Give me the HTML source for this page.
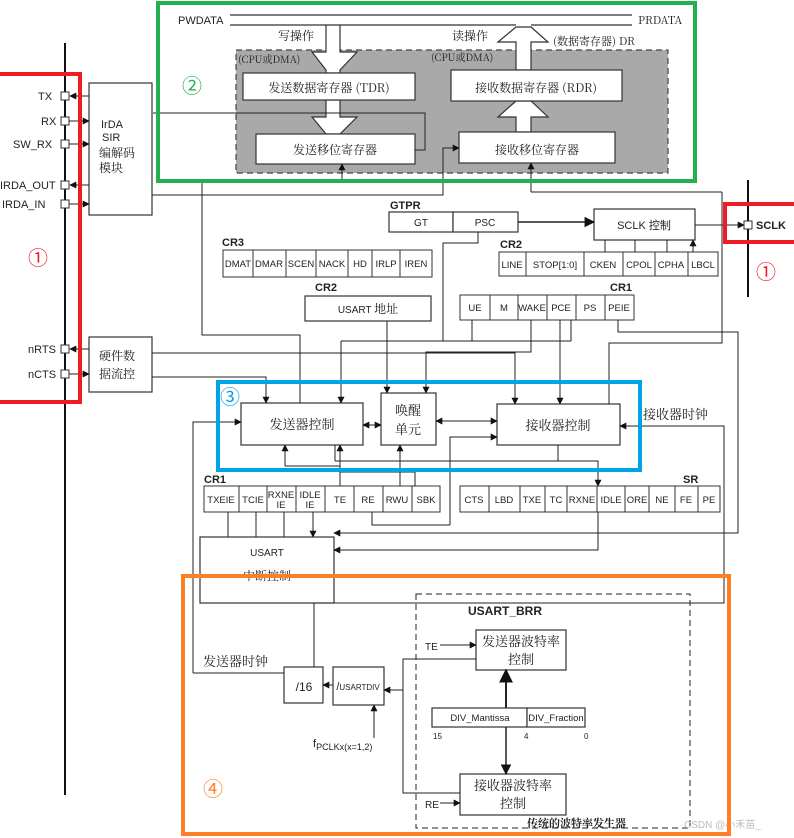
<!DOCTYPE html>
<html><head><meta charset="utf-8"><style>
html,body{margin:0;padding:0;background:#fff}
svg{display:block}
text{font-family:"Liberation Sans","Noto Sans CJK SC",sans-serif;fill:#222}
.c{font-family:"Noto Serif CJK SC","Noto Sans CJK SC",serif}
</style></head><body>
<svg width="794" height="838" viewBox="0 0 794 838" xmlns="http://www.w3.org/2000/svg">
<defs>
<marker id="a" viewBox="0 0 10 10" refX="9" refY="5" markerWidth="7" markerHeight="7" orient="auto-start-reverse"><path d="M0,0L10,5L0,10z" fill="#111"/></marker>
</defs>
<g fill="none" stroke="#333" stroke-width="1.2">
<!-- left bus -->
<line x1="65" y1="43" x2="65" y2="795" stroke="#111" stroke-width="2"/>
<line x1="748" y1="180" x2="748" y2="297" stroke="#111" stroke-width="2"/>
<!-- PWDATA/PRDATA bus -->
<line x1="230" y1="15" x2="632" y2="15"/>
<line x1="230" y1="25" x2="326" y2="25"/>
<line x1="340" y1="25" x2="516" y2="25"/>
<line x1="531" y1="25" x2="632" y2="25"/>
<!-- gray region -->
<rect x="236" y="50" width="432" height="123" fill="#a9a9a9" stroke="#444" stroke-dasharray="6,4"/>
</g>
<!-- hollow arrows -->
<g fill="#fff" stroke="#333" stroke-width="1.2">
<polygon points="326,25 340,25 340,52 357,52 340,70 340,73 326,73 326,70 312,52 326,52"/>
<polygon points="326,100 340,100 340,117 357,117 340,134 326,134 312,117 326,117"/>
<polygon points="516,70 531,70 531,42 548,42 531,27 516,27 498,42 516,42"/>
<polygon points="516,132 531,132 531,117 548,117 531,101 516,101 498,117 516,117"/>
</g>
<g fill="#fff" stroke="#333" stroke-width="1.2">
<rect x="243" y="73" width="172" height="27"/>
<rect x="451" y="70" width="171" height="31"/>
<rect x="256" y="134" width="159" height="30"/>
<rect x="459" y="132" width="156" height="31"/>
<rect x="89" y="83" width="63" height="132"/>
<rect x="89" y="337" width="63" height="55"/>
<rect x="389" y="212" width="64" height="20"/>
<rect x="453" y="212" width="65" height="20"/>
<rect x="594" y="209" width="101" height="31"/>
<rect x="305" y="296" width="126" height="25"/>
<rect x="241" y="403" width="122" height="42"/>
<rect x="381" y="393" width="55" height="52"/>
<rect x="497" y="404" width="123" height="41"/>
<rect x="200" y="537" width="134" height="66"/>
<rect x="284" y="667" width="39" height="36"/>
<rect x="333" y="667" width="51" height="38"/>
<rect x="476" y="630" width="90" height="40"/>
<rect x="460" y="774" width="106" height="41"/>
<rect x="432" y="708" width="95" height="19"/>
<rect x="527" y="708" width="58" height="19"/>
</g>
<!-- register rows -->
<g fill="#fff" stroke="#333" stroke-width="1">
<rect x="223" y="250" width="209" height="27"/>
<rect x="499" y="252" width="219" height="24"/>
<rect x="460" y="295" width="174" height="25"/>
<rect x="204" y="486" width="236" height="26"/>
<rect x="460" y="486" width="260" height="26"/>
</g>
<g stroke="#333" stroke-width="1">
<path d="M253,250v27M286,250v27M316,250v27M348,250v27M372,250v27M400,250v27"/>
<path d="M526,252v24M584,252v24M623,252v24M655,252v24M688,252v24"/>
<path d="M490,295v25M518,295v25M547,295v25M576,295v25M605,295v25"/>
<path d="M239,486v26M267,486v26M296,486v26M325,486v26M354,486v26M383,486v26M412,486v26"/>
<path d="M489,486v26M520,486v26M545,486v26M567,486v26M597,486v26M625,486v26M649,486v26M675,486v26M698,486v26"/>
</g>
<!-- pins -->
<g fill="#fff" stroke="#333" stroke-width="1">
<rect x="61" y="92" width="8" height="8"/><rect x="61" y="117" width="8" height="8"/><rect x="61" y="140" width="8" height="8"/>
<rect x="61" y="181" width="8" height="8"/><rect x="61" y="200" width="8" height="8"/>
<rect x="61" y="345" width="8" height="8"/><rect x="61" y="370" width="8" height="8"/>
<rect x="744" y="221" width="8" height="8"/>
</g>
<!-- connectors -->
<g fill="none" stroke="#222" stroke-width="1">
<line x1="89" y1="96" x2="70" y2="96" marker-end="url(#a)"/>
<line x1="69" y1="121" x2="89" y2="121" marker-end="url(#a)"/>
<line x1="69" y1="144" x2="89" y2="144" marker-end="url(#a)"/>
<line x1="89" y1="185" x2="70" y2="185" marker-end="url(#a)"/>
<line x1="69" y1="204" x2="89" y2="204" marker-end="url(#a)"/>
<line x1="89" y1="349" x2="70" y2="349" marker-end="url(#a)"/>
<line x1="69" y1="374" x2="89" y2="374" marker-end="url(#a)"/>
<path d="M415,150H425V113H153" />
<path d="M152,195H443V148H459" marker-end="url(#a)"/>
<path d="M202,183V335H300V403"/>
<path d="M342,183V164" marker-end="url(#a)"/>
<path d="M531,192V163" marker-end="url(#a)" />
<path d="M722,192H531"/>
<path d="M722,192V343H609V404"/>
<path d="M518,222H594" marker-end="url(#a)" stroke-width="1.5"/>
<path d="M695,225H744" marker-end="url(#a)"/>
<path d="M605,252V240M635,252V240M667,252V240M693,252V240" marker-end="url(#a)"/>
<path d="M478,232V243H443V341"/>
<path d="M472,320V341M571,320V341"/>
<path d="M341,341H571"/>
<path d="M341,341V403" marker-end="url(#a)"/>
<path d="M152,353H515V404" marker-end="url(#a)"/>
<path d="M152,377H266V403" marker-end="url(#a)"/>
<path d="M387,321V393" marker-end="url(#a)"/>
<path d="M531,320V352H426V393" marker-end="url(#a)"/>
<path d="M560,320V404" marker-end="url(#a)"/>
<path d="M618,320V332H738V533H334" marker-end="url(#a)"/>
<path d="M363,425H381" marker-end="url(#a)" marker-start="url(#a)"/>
<path d="M436,421H497" marker-end="url(#a)" marker-start="url(#a)"/>
<path d="M450,525V437H497" marker-end="url(#a)"/>
<path d="M372,512V525H450"/>
<path d="M558,445V461H598V486" marker-end="url(#a)"/>
<path d="M598,512V550H334" marker-end="url(#a)"/>
<path d="M335,461H558"/>
<path d="M335,445V461"/>
<path d="M340,466V445" marker-end="url(#a)"/>
<path d="M285,466V445" marker-end="url(#a)"/>
<path d="M340,486V472H415V486"/>
<path d="M285,466H340V486"/>
<path d="M400,486V445" marker-end="url(#a)"/>
<path d="M228,512V537M256,512V537M284,512V537M313,512V537" marker-end="url(#a)"/>
<path d="M193,673V422H241" marker-end="url(#a)"/>
<path d="M193,673H284"/>
<path d="M314,667V603H724V426H620" marker-end="url(#a)"/>
<path d="M333,685H323" marker-end="url(#a)"/>
<path d="M476,659H403V793H460"/>
<path d="M403,690H384" marker-end="url(#a)"/>
<path d="M374,738V705" marker-end="url(#a)"/>
<path d="M506,708V670" marker-end="url(#a)" stroke-width="2"/>
<path d="M506,727V774" marker-end="url(#a)" stroke-width="1.5"/>
<path d="M440,645H476" marker-end="url(#a)"/>
<path d="M440,803H460" marker-end="url(#a)"/>
<rect x="416" y="594" width="274" height="234" stroke-dasharray="6,4"/>
</g>
<!-- text -->
<g font-size="12">
<text x="178" y="24" font-size="11">PWDATA</text>
<text x="638" y="24" font-size="11" class="c">PRDATA</text>
<text x="278" y="40" class="c" font-size="12">写操作</text>
<text x="452" y="40" class="c" font-size="12">读操作</text>
<text x="553" y="45" class="c" font-size="11">(数据寄存器) DR</text>
<text x="238" y="63" class="c" font-size="10">(CPU或DMA)</text>
<text x="431" y="61" class="c" font-size="10">(CPU或DMA)</text>
<text x="329" y="92" text-anchor="middle" class="c" font-size="12">发送数据寄存器 (TDR)</text>
<text x="536" y="92" text-anchor="middle" class="c" font-size="12">接收数据寄存器 (RDR)</text>
<text x="335" y="154" text-anchor="middle" class="c" font-size="12">发送移位寄存器</text>
<text x="537" y="154" text-anchor="middle" class="c" font-size="12">接收移位寄存器</text>
<text x="38" y="100" font-size="11">TX</text>
<text x="41" y="125" font-size="11">RX</text>
<text x="13" y="148" font-size="11">SW_RX</text>
<text x="0" y="189" font-size="11">IRDA_OUT</text>
<text x="2" y="208" font-size="11">IRDA_IN</text>
<text x="28" y="353" font-size="11">nRTS</text>
<text x="28" y="378" font-size="11">nCTS</text>
<text x="101" y="128" font-size="11">IrDA</text>
<text x="102" y="141" font-size="11">SIR</text>
<text x="99" y="157" font-size="12" class="c">编解码</text>
<text x="99" y="172" font-size="12" class="c">模块</text>
<text x="99" y="360" font-size="12" class="c">硬件数</text>
<text x="99" y="378" font-size="12" class="c">据流控</text>
<text x="390" y="209" font-size="11" font-weight="bold">GTPR</text>
<text x="421" y="226" font-size="10" text-anchor="middle">GT</text>
<text x="485" y="226" font-size="10" text-anchor="middle">PSC</text>
<text x="644" y="229" font-size="11" text-anchor="middle">SCLK 控制</text>
<text x="756" y="229" font-size="11" font-weight="bold">SCLK</text>
<text x="222" y="246" font-size="11" font-weight="bold">CR3</text>
<g font-size="9.5" text-anchor="middle">
<text x="238" y="267">DMAT</text><text x="269" y="267">DMAR</text><text x="301" y="267">SCEN</text><text x="332" y="267">NACK</text><text x="360" y="267">HD</text><text x="386" y="267">IRLP</text><text x="416" y="267">IREN</text>
<text x="512" y="268">LINE</text><text x="555" y="268">STOP[1:0]</text><text x="603" y="268">CKEN</text><text x="639" y="268">CPOL</text><text x="671" y="268">CPHA</text><text x="703" y="268">LBCL</text>
<text x="475" y="311">UE</text><text x="504" y="311">M</text><text x="532" y="311">WAKE</text><text x="561" y="311">PCE</text><text x="590" y="311">PS</text><text x="619" y="311">PEIE</text>
<text x="221" y="503">TXEIE</text><text x="253" y="503">TCIE</text><text x="281" y="498">RXNE</text><text x="281" y="508">IE</text><text x="310" y="498">IDLE</text><text x="310" y="508">IE</text><text x="340" y="503">TE</text><text x="368" y="503">RE</text><text x="397" y="503">RWU</text><text x="426" y="503">SBK</text>
<text x="474" y="503">CTS</text><text x="504" y="503">LBD</text><text x="532" y="503">TXE</text><text x="556" y="503">TC</text><text x="582" y="503">RXNE</text><text x="611" y="503">IDLE</text><text x="637" y="503">ORE</text><text x="662" y="503">NE</text><text x="686" y="503">FE</text><text x="709" y="503">PE</text>
</g>
<text x="500" y="248" font-size="11" font-weight="bold">CR2</text>
<text x="315" y="291" font-size="11" font-weight="bold">CR2</text>
<text x="610" y="291" font-size="11" font-weight="bold">CR1</text>
<text x="204" y="483" font-size="11" font-weight="bold">CR1</text>
<text x="683" y="483" font-size="11" font-weight="bold">SR</text>
<text x="368" y="313" font-size="10" text-anchor="middle">USART <tspan class="c" font-size="12">地址</tspan></text>
<text x="302" y="429" font-size="13" text-anchor="middle" class="c">发送器控制</text>
<text x="408" y="415" font-size="13" text-anchor="middle" class="c">唤醒</text>
<text x="408" y="434" font-size="13" text-anchor="middle" class="c">单元</text>
<text x="558" y="430" font-size="13" text-anchor="middle" class="c">接收器控制</text>
<text x="643" y="419" font-size="13" class="c">接收器时钟</text>
<text x="267" y="556" font-size="10" text-anchor="middle">USART</text>
<text x="267" y="580" font-size="12" text-anchor="middle" class="c">中断控制</text>
<text x="203" y="666" font-size="13" class="c">发送器时钟</text>
<text x="304" y="691" font-size="12" text-anchor="middle">/16</text>
<text x="358" y="690" font-size="8" text-anchor="middle"><tspan font-size="11">/</tspan>USARTDIV</text>
<text x="313" y="747" font-size="11">f<tspan font-size="9" dy="3">PCLKx(x=1,2)</tspan></text>
<text x="468" y="615" font-size="12" font-weight="bold">USART_BRR</text>
<text x="425" y="650" font-size="10">TE</text>
<text x="425" y="808" font-size="10">RE</text>
<text x="521" y="646" font-size="13" text-anchor="middle" class="c">发送器波特率</text>
<text x="521" y="664" font-size="13" text-anchor="middle" class="c">控制</text>
<text x="513" y="790" font-size="13" text-anchor="middle" class="c">接收器波特率</text>
<text x="513" y="808" font-size="13" text-anchor="middle" class="c">控制</text>
<text x="480" y="721" font-size="9.5" text-anchor="middle">DIV_Mantissa</text>
<text x="556" y="721" font-size="9.5" text-anchor="middle">DIV_Fraction</text>
<text x="433" y="739" font-size="8">15</text>
<text x="524" y="739" font-size="8">4</text>
<text x="584" y="739" font-size="8">0</text>
<text x="527" y="827" font-size="11" class="c" font-weight="bold">传统的波特率发生器</text>
<text x="684" y="828" font-size="10" style="fill:#bbb">CSDN @小禾苗_</text>
</g>
<!-- highlight boxes -->
<g fill="none" stroke-width="4">
<rect x="-2" y="74" width="82" height="328" stroke="#ee1c24"/>
<rect x="158" y="3" width="537" height="178" stroke="#22b14c"/>
<rect x="725" y="204" width="72" height="38" stroke="#ee1c24"/>
<rect x="218" y="382" width="422" height="88" stroke="#00a2e8"/>
<rect x="183" y="576" width="546" height="258" stroke="#ff7f27"/>
</g>
<g font-size="20">
<text x="28" y="265" style="fill:#ee1c24">①</text>
<text x="756" y="279" style="fill:#ee1c24">①</text>
<text x="182" y="93" style="fill:#22b14c">②</text>
<text x="220" y="404" style="fill:#00a2e8">③</text>
<text x="203" y="796" style="fill:#ff7f27">④</text>
</g>
</svg>
</body></html>
